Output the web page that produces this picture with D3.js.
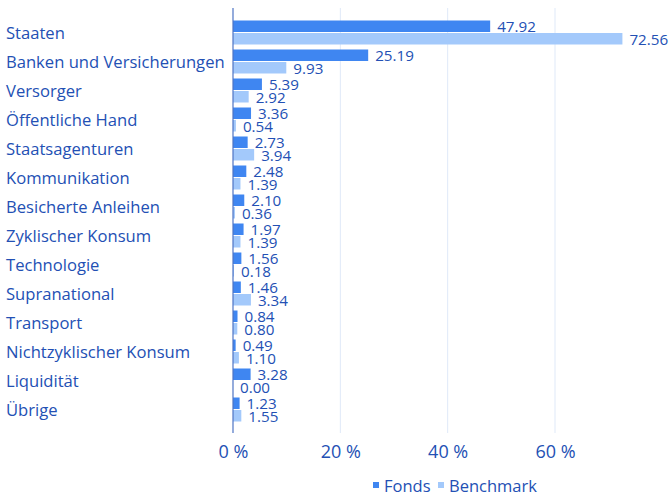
<!DOCTYPE html>
<html>
<head>
<meta charset="utf-8">
<script src="https://cdn.jsdelivr.net/npm/d3@7"></script>
<style>
  body { margin: 0; background: #fff; }
  svg { display: block; font-family: "Open Sans", "Noto Sans", sans-serif; }
</style>
</head>
<body>
<svg id="chart"></svg>
<script>
// sector breakdown, percent
const categories = ["Staaten", "Banken und Versicherungen", "Versorger", "Öffentliche Hand",
    "Staatsagenturen", "Kommunikation", "Besicherte Anleihen", "Zyklischer Konsum",
    "Technologie", "Supranational", "Transport", "Nichtzyklischer Konsum", "Liquidität", "Übrige"];
const fonds = [47.92, 25.19, 5.39, 3.36, 2.73, 2.48, 2.10, 1.97, 1.56, 1.46, 0.84, 0.49, 3.28, 1.23];
const benchmark = [72.56, 9.93, 2.92, 0.54, 3.94, 1.39, 0.36, 1.39, 0.18, 3.34, 0.80, 1.10, 0.00, 1.55];
const ticks = [0, 20, 40, 60];
const seriesNames = ["Fonds", "Benchmark"];

function main() {
    let width = 670, height = 498;
    let svg = d3.select("#chart").attr("width", width).attr("height", height);

    const colors = ["#3f86f1", "#a3c9fb"];
    const textColor = "#2350b4";

    const plotLeft = 233, plotTop = 8, plotBottom = 433;

    let x = d3.scaleLinear().domain([0, 60]).range([plotLeft, plotLeft + 322]);
    let y = d3.scaleBand().domain(categories).range([18, 424]).padding(0);

    // grid lines
    svg.append("g")
        .selectAll("line")
        .data(ticks.filter(t => t > 0))
        .join("line")
        .attr("x1", d => x(d)).attr("x2", d => x(d))
        .attr("y1", plotTop).attr("y2", plotBottom)
        .attr("stroke", "#dfe9f8")
        .attr("stroke-width", 1);

    // x axis tick labels
    let xAxis = svg.append("g")
        .attr("transform", `translate(0, ${plotBottom})`)
        .call(d3.axisBottom(x).tickValues(ticks).tickSize(0).tickPadding(12).tickFormat(d => d + " %"));
    xAxis.select(".domain").remove();
    xAxis.selectAll("text")
        .attr("font-size", 18)
        .attr("font-family", "Open Sans, Noto Sans, sans-serif")
        .attr("fill", textColor);

    const barH = 11.5;
    const groupH = barH * 2 + 1;

    let rows = categories.map((c, i) => ({ cat: c, vals: [fonds[i], benchmark[i]] }));

    let g = svg.append("g")
        .selectAll("g")
        .data(rows)
        .join("g")
        .attr("transform", d => `translate(0, ${y(d.cat) + (y.bandwidth() - groupH) / 2})`);

    g.selectAll("rect")
        .data(d => d.vals)
        .join("rect")
        .attr("x", x(0))
        .attr("y", (d, j) => j * (barH + 1))
        .attr("width", d => Math.max(0, x(d) - x(0)))
        .attr("height", barH)
        .attr("fill", (d, j) => colors[j]);

    g.selectAll("text.val")
        .data(d => d.vals)
        .join("text")
        .attr("class", "val")
        .attr("x", d => x(d) + 7)
        .attr("y", (d, j) => j * (barH + 1) + barH / 2 + 6)
        .attr("font-size", 15.2)
        .attr("fill", textColor)
        .text(d => d.toFixed(2));

    // category labels
    svg.append("g")
        .selectAll("text")
        .data(categories)
        .join("text")
        .attr("x", 6)
        .attr("y", d => y(d) + y.bandwidth() / 2 + 6)
        .attr("font-size", 16.6)
        .attr("fill", textColor)
        .text(d => d);

    // axis line
    svg.append("line")
        .attr("x1", plotLeft).attr("x2", plotLeft)
        .attr("y1", plotTop).attr("y2", plotBottom)
        .attr("stroke", "#4d74c4")
        .attr("stroke-width", 1.2);

    // legend
    let legend = svg.append("g").attr("transform", "translate(373, 487)");
    let lx = [0, 65];
    seriesNames.forEach((name, i) => {
        legend.append("rect")
            .attr("x", lx[i]).attr("y", -5)
            .attr("width", 6).attr("height", 6)
            .attr("fill", colors[i]);
        legend.append("text")
            .attr("x", lx[i] + 11).attr("y", 0)
            .attr("dy", "0.3em")
            .attr("font-size", 16.5)
            .attr("fill", textColor)
            .text(name);
    });
}

main();
</script>
</body>
</html>
